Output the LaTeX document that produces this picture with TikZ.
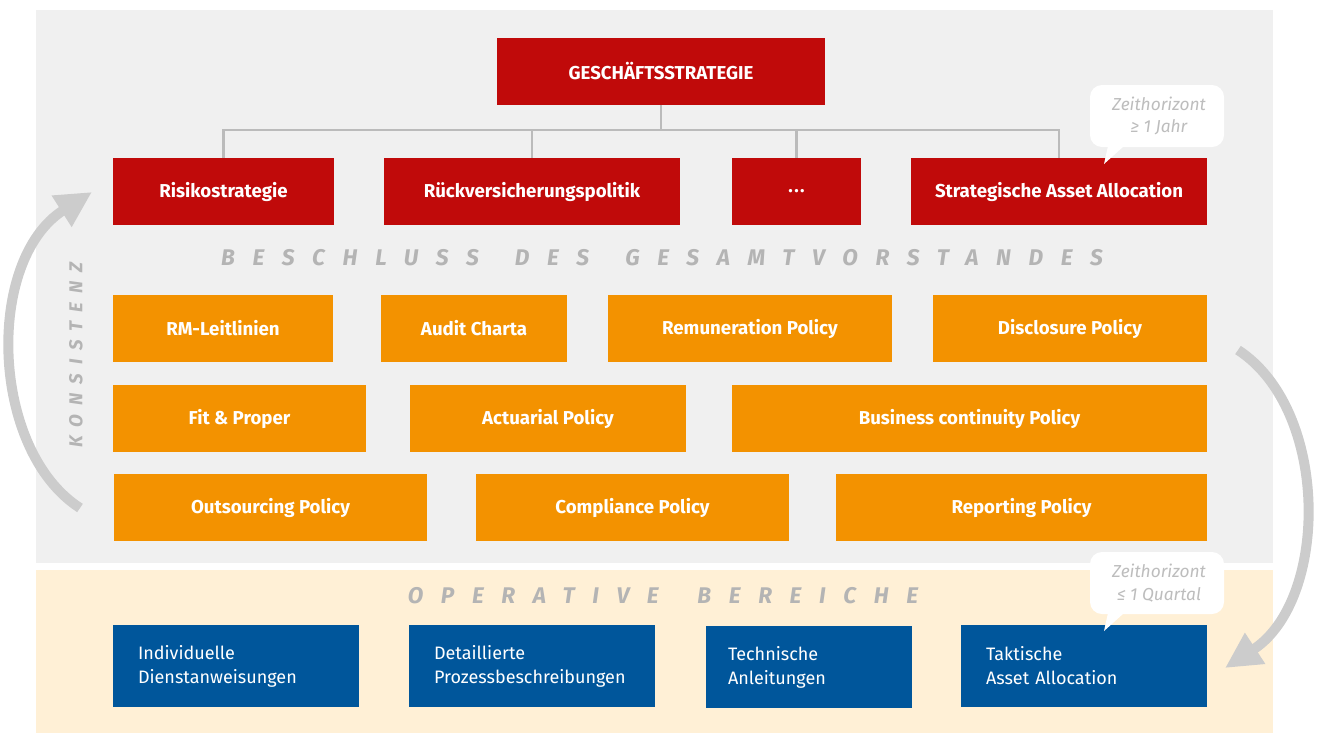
\documentclass[tikz,border=0pt]{standalone}
\usepackage{fontspec}
\setmainfont{Fira Sans}
\usetikzlibrary{arrows.meta}
\definecolor{panelgray}{HTML}{F0F0F0}
\definecolor{panelbeige}{HTML}{FFF0D6}
\definecolor{stratred}{HTML}{C00A0A}
\definecolor{policyorange}{HTML}{F39200}
\definecolor{opblue}{HTML}{00569B}
\definecolor{linegray}{HTML}{BBBBBB}
\definecolor{arcgray}{HTML}{CCCCCC}
\definecolor{labelgray}{HTML}{B4B4B4}
\definecolor{notegray}{HTML}{BDBDBD}
\tikzset{
  wh/.style 2 args={minimum width=#1*0.75pt, minimum height=#2*0.75pt},
  redbox/.style={fill=stratred, text=white, font=\bfseries\fontsize{14}{16}\selectfont, inner sep=0pt},
  orangebox/.style={fill=policyorange, text=white, font=\bfseries\fontsize{14}{16}\selectfont, inner sep=0pt},
  bluebox/.style={fill=opblue, text=white, font=\fontsize{13.5}{18}\selectfont, align=left,
    text width=(#1-50)*0.75pt, inner xsep=25*0.75pt, inner ysep=0pt, minimum height=82*0.75pt},
  conn/.style={draw=linegray, line width=2.2pt},
  spaced/.style={text=labelgray, font=\bfseries\itshape\fontsize{17}{20}\selectfont\addfontfeature{LetterSpace=78}},
  spacedsmall/.style={text=labelgray, font=\bfseries\itshape\fontsize{14}{16}\selectfont\addfontfeature{LetterSpace=48}},
  note/.style={text=notegray, font=\itshape\fontsize{13}{17}\selectfont, align=center},
  arc/.style={draw=arcgray, line width=7.5pt, -{Triangle[length=27pt, width=26pt]}},
}
\begin{document}
\begin{tikzpicture}[x=0.75pt, y=-0.75pt]
\useasboundingbox (0,0) rectangle (1317,733);
% panels
\fill[panelgray] (36,10) rectangle (1273,563);
\fill[panelbeige] (36,570) rectangle (1273,733);

% strategy level
\node[redbox, wh={328}{67}] (gs) at (661,71.5) {GESCHÄFTSSTRATEGIE};
\node[redbox, wh={221}{67}] (rs) at (223.5,191.5) {Risikostrategie};
\node[redbox, wh={296}{67}] (rv) at (532,191.5) {Rückversicherungspolitik};
\node[redbox, wh={129}{67}] (dots) at (796.5,191.5) {.\kern1pt.\kern1pt.};
\node[redbox, wh={296}{67}] (saa) at (1059,191.5) {Strategische Asset Allocation};

\coordinate (bus) at (661,130);
\draw[conn] (gs.south) -- (bus);
\draw[conn] (rs.north) |- (bus);
\draw[conn] (rv.north) |- (bus);
\draw[conn] (dots.north) |- (bus);
\draw[conn] (saa.north) |- (bus);

\node[spaced] (board) at (662,258) {BESCHLUSS \kern10pt DES \kern10pt GESAMTVORSTANDES};

% policies
\node[orangebox, wh={220}{67}] (rm) at (223,328.5) {RM-Leitlinien};
\node[orangebox, wh={186}{67}] (audit) at (474,328.5) {Audit Charta};
\node[orangebox, wh={284}{67}] (remu) at (750,328.5) {Remuneration Policy};
\node[orangebox, wh={274}{67}] (discl) at (1070,328.5) {Disclosure Policy};
\node[orangebox, wh={253}{67}] (fit) at (239.5,418.5) {Fit \& Proper};
\node[orangebox, wh={276}{67}] (act) at (548,418.5) {Actuarial Policy};
\node[orangebox, wh={475}{67}] (bcp) at (969.5,418.5) {Business continuity Policy};
\node[orangebox, wh={313}{67}] (outs) at (270.5,507.5) {Outsourcing Policy};
\node[orangebox, wh={313}{67}] (comp) at (632.5,507.5) {Compliance Policy};
\node[orangebox, wh={371}{67}] (rep) at (1021.5,507.5) {Reporting Policy};

\node[spaced] (oper) at (663,596) {OPERATIVE \kern12pt BEREICHE};

% operational level
\node[bluebox=246] (ind) at (236,666) {Individuelle\\Dienstanweisungen};
\node[bluebox=246] (det) at (532,666) {Detaillierte\\Prozessbeschreibungen};
\node[bluebox=206, text width=(206-44)*0.75pt, inner xsep=22*0.75pt] (tech) at (809,667) {Technische\\Anleitungen};
\node[bluebox=246] (takt) at (1084,666) {Taktische\\Asset Allocation};

% time horizon notes
\fill[white, rounded corners=9pt] (1090,85) rectangle (1224,147);
\fill[white] (1108,146) -- (1124,146) -- (1104,164) -- cycle;
\node[note] (th1) at (1159,116) {Zeithorizont\\≥ 1 Jahr};
\fill[white, rounded corners=9pt] (1090,552) rectangle (1224,614);
\fill[white] (1108,613) -- (1124,613) -- (1104,631) -- cycle;
\node[note] (th2) at (1159,583) {Zeithorizont\\≤ 1 Quartal};

% consistency arcs
\coordinate (la) at (80,508);
\coordinate (lb) at (92,192);
\draw[arc] (la) .. controls (-10,450) and (-15,260) .. (lb);
\node[spacedsmall, rotate=90] (kons) at (76,355) {KONSISTENZ};
\coordinate (ra) at (1238,350);
\coordinate (rb) at (1225,668);
\draw[arc] (ra) .. controls (1330,410) and (1329,600) .. (rb);
\end{tikzpicture}
\end{document}
